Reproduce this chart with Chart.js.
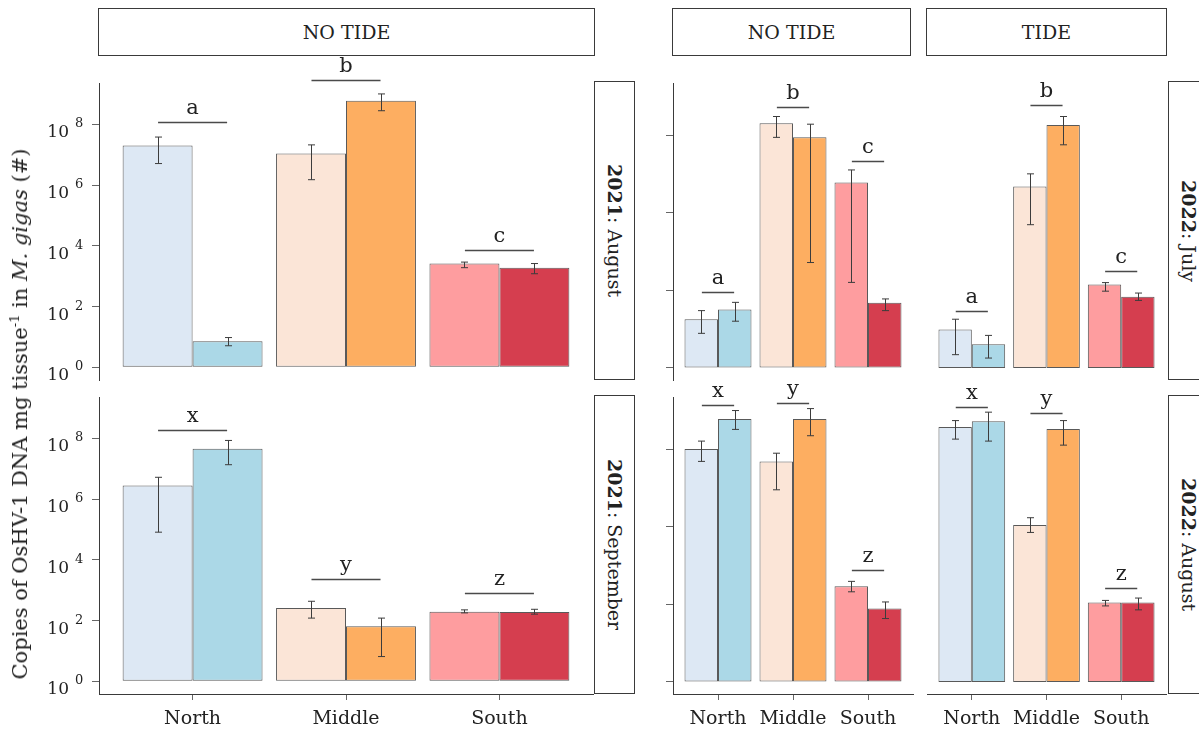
<!DOCTYPE html>
<html>
<head>
<meta charset="utf-8">
<script src="https://cdn.jsdelivr.net/npm/chart.js@4.4.1/dist/chart.umd.min.js"></script>
<style>
  body { margin: 0; width: 1199px; height: 736px; background: #fff; position: relative; overflow: hidden;
         font-family: 'DejaVu Serif', serif; color: #222; }
  canvas.panel { position: absolute; }
  .strip { position: absolute; box-sizing: border-box; border: 1.5px solid #3a3a3a; background: #fff;
           display: flex; align-items: center; justify-content: center; font-size: 19px; white-space: nowrap; }
  .strip.v { writing-mode: vertical-rl; }
  #ytitle { position: absolute; left: 20px; top: 414px; transform: translate(-50%, -50%) rotate(-90deg);
            white-space: nowrap; font-size: 21px; }
  #ytitle .sup { font-size: 13px; position: relative; top: -8px; }
</style>
</head>
<body>
<canvas class="panel" id="aug21" width="600" height="334" style="left:0;top:56px"></canvas>
<canvas class="panel" id="sep21" width="600" height="360" style="left:0;top:376px"></canvas>
<canvas class="panel" id="jul22n" width="300" height="334" style="left:620px;top:56px"></canvas>
<canvas class="panel" id="aug22n" width="300" height="360" style="left:620px;top:376px"></canvas>
<canvas class="panel" id="jul22t" width="250" height="334" style="left:920px;top:56px"></canvas>
<canvas class="panel" id="aug22t" width="250" height="360" style="left:920px;top:376px"></canvas>

<div class="strip" style="left:98px;top:8px;width:497px;height:48px">NO TIDE</div>
<div class="strip" style="left:672px;top:8px;width:239px;height:48px">NO TIDE</div>
<div class="strip" style="left:926px;top:8px;width:241px;height:48px">TIDE</div>

<div class="strip v" style="left:594px;top:81px;width:41px;height:299px"><span><b>2021</b>: August</span></div>
<div class="strip v" style="left:594px;top:395px;width:41px;height:299px"><span><b>2021</b>: September</span></div>
<div class="strip v" style="left:1168px;top:81px;width:41px;height:299px"><span><b>2022</b>: July</span></div>
<div class="strip v" style="left:1168px;top:395px;width:41px;height:299px"><span><b>2022</b>: August</span></div>

<div id="ytitle">Copies of OsHV-1 DNA mg tissue<span class="sup">-1</span> in <i>M. gigas</i> (#)</div>

<script>
// Sites along the coast
const regions = ['North', 'Middle', 'South'];
const ticks2021 = [1, 1e2, 1e4, 1e6, 1e8];
const ticks2022 = [1, 1e2, 1e4, 1e6];

// 2021 August, no tide
const aug21PaleMean = [2.0e7, 1.1e7, 2.6e3];
const aug21PaleLow  = [5.1e6, 1.5e6, 1.9e3];
const aug21PaleHigh = [3.8e7, 2.1e7, 2.9e3];
const aug21DeepMean = [7.2, 6.0e8, 1.9e3];
const aug21DeepLow  = [5.1, 2.8e8, 1.2e3];
const aug21DeepHigh = [9.5, 1.0e9, 2.6e3];
const aug21Letters  = ['a', 'b', 'c'];
const aug21LetterAt = [1.2e8, 2.9e9, 7.1e3];

// 2021 September, no tide
const sep21PaleMean = [2.8e6, 260, 195];
const sep21PaleLow  = [8.1e4, 120, 178];
const sep21PaleHigh = [5.2e6, 430, 224];
const sep21DeepMean = [4.5e7, 65, 192];
const sep21DeepLow  = [1.35e7, 6.5, 162];
const sep21DeepHigh = [8.5e7, 120, 234];
const sep21Letters  = ['x', 'y', 'z'];
const sep21LetterAt = [1.9e8, 2.3e3, 780];

// 2022 July, no tide
const jul22nPaleMean = [18, 2.0e6, 6.0e4];
const jul22nPaleLow  = [7.8, 8.7e5, 160];
const jul22nPaleHigh = [30, 3.0e6, 1.26e5];
const jul22nDeepMean = [32, 8.7e5, 48];
const jul22nDeepLow  = [16, 520, 30];
const jul22nDeepHigh = [49, 1.9e6, 60];
const jul22nLetters  = ['a', 'b', 'c'];
const jul22nLetterAt = [91, 5.4e6, 2.2e5];

// 2022 July, tide
const jul22tPaleMean = [9.8, 4.7e4, 141];
const jul22tPaleLow  = [2.2, 4.9e3, 95];
const jul22tPaleHigh = [18, 1.0e5, 158];
const jul22tDeepMean = [4.1, 1.8e6, 68];
const jul22tDeepLow  = [1.8, 5.6e5, 55];
const jul22tDeepHigh = [6.9, 3.0e6, 85];
const jul22tLetters  = ['a', 'b', 'c'];
const jul22tLetterAt = [30, 6.0e6, 316];

// 2022 August, no tide
const aug22nPaleMean = [1.0e6, 4.8e5, 290];
const aug22nPaleLow  = [4.8e5, 8.9e4, 210];
const aug22nPaleHigh = [1.6e6, 7.8e5, 390];
const aug22nDeepMean = [5.9e6, 5.9e6, 78];
const aug22nDeepLow  = [3.2e6, 2.2e6, 43];
const aug22nDeepHigh = [9.8e6, 1.1e7, 115];
const aug22nLetters  = ['x', 'y', 'z'];
const aug22nLetterAt = [1.4e7, 1.5e7, 780];

// 2022 August, tide
const aug22tPaleMean = [3.7e6, 1.1e4, 112];
const aug22tPaleLow  = [1.8e6, 7.1e3, 91];
const aug22tPaleHigh = [5.4e6, 1.7e4, 126];
const aug22tDeepMean = [5.2e6, 3.3e6, 112];
const aug22tDeepLow  = [1.6e6, 1.26e6, 72];
const aug22tDeepHigh = [8.9e6, 5.4e6, 145];
const aug22tLetters  = ['x', 'y', 'z'];
const aug22tLetterAt = [1.2e7, 8.5e6, 257];

// Pale and saturated fill per site
const paleColors = ['#dde8f4', '#fbe5d7', '#fe9d9f'];
const deepColors = ['#abd8e7', '#fdae61', '#d53e4f'];

const FONT = 'DejaVu Serif';

// Vertical error bars with caps, read from errLow / errHigh on each dataset
const errorBars = {
  id: 'errorBars',
  afterDatasetsDraw(chart) {
    const { ctx } = chart;
    const y = chart.scales.y;
    chart.data.datasets.forEach((ds, di) => {
      chart.getDatasetMeta(di).data.forEach((bar, i) => {
        const lo = y.getPixelForValue(ds.errLow[i]);
        const hi = y.getPixelForValue(ds.errHigh[i]);
        const cx = Math.round(bar.x) + 0.5;
        ctx.save();
        ctx.strokeStyle = '#3c3c3c';
        ctx.lineWidth = 1;
        ctx.beginPath();
        ctx.moveTo(cx, lo); ctx.lineTo(cx, hi);
        ctx.moveTo(cx - 3.5, lo); ctx.lineTo(cx + 3.5, lo);
        ctx.moveTo(cx - 3.5, hi); ctx.lineTo(cx + 3.5, hi);
        ctx.stroke();
        ctx.restore();
      });
    });
  }
};

// Significance letters over each site pair
const groupLetters = {
  id: 'groupLetters',
  afterDatasetsDraw(chart, args, opts) {
    const { ctx } = chart;
    const { x, y } = chart.scales;
    opts.letters.forEach((txt, i) => {
      const py = Math.round(y.getPixelForValue(opts.levels[i])) + 0.5;
      const x0 = x.getPixelForValue(i - opts.halfWidth);
      const x1 = x.getPixelForValue(i + opts.halfWidth);
      ctx.save();
      ctx.strokeStyle = '#4a4a4a';
      ctx.lineWidth = 1.6;
      ctx.beginPath(); ctx.moveTo(x0, py); ctx.lineTo(x1, py); ctx.stroke();
      ctx.fillStyle = '#222';
      ctx.font = '21px "' + FONT + '"';
      ctx.textAlign = 'center';
      ctx.textBaseline = 'alphabetic';
      ctx.fillText(txt, (x0 + x1) / 2, py - 9);
      ctx.restore();
    });
  }
};

// Power-of-ten tick labels: "10" with a raised exponent beside each y tick
const powerTicks = {
  id: 'powerTicks',
  afterDraw(chart, args, opts) {
    if (!opts.show) return;
    const { ctx } = chart;
    const y = chart.scales.y;
    y.ticks.forEach(t => {
      const py = y.getPixelForValue(t.value);
      const exp = Math.round(Math.log10(t.value));
      ctx.save();
      ctx.fillStyle = '#222';
      ctx.textBaseline = 'alphabetic';
      ctx.font = '17px "' + FONT + '"';
      ctx.textAlign = 'right';
      ctx.fillText('10', opts.right, py + 13);
      ctx.font = '13px "' + FONT + '"';
      ctx.textAlign = 'left';
      ctx.fillText(String(exp), opts.right + 6, py + 3);
      ctx.restore();
    });
  }
};

function drawPanel(id, d, g) {
  const mk = (mean, low, high, colors) => ({
    data: regions.map((r, i) => ({ x: i, y: mean[i] })),
    errLow: low, errHigh: high,
    backgroundColor: colors,
    borderColor: '#595959',
    borderWidth: 1,
    borderSkipped: false
  });
  new Chart(document.getElementById(id), {
    type: 'bar',
    data: { datasets: [
      mk(d.paleMean, d.paleLow, d.paleHigh, paleColors),
      mk(d.deepMean, d.deepLow, d.deepHigh, deepColors)
    ] },
    plugins: [errorBars, groupLetters, powerTicks],
    options: {
      responsive: false,
      animation: false,
      events: [],
      layout: { padding: g.pad },
      datasets: { bar: { base: 1, categoryPercentage: g.cat, barPercentage: 1 } },
      plugins: {
        legend: { display: false },
        tooltip: { enabled: false },
        groupLetters: { letters: d.letters, levels: d.letterAt, halfWidth: g.half },
        powerTicks: { show: g.yLabels, right: 69 }
      },
      scales: {
        x: {
          type: 'linear', min: g.xMin, max: g.xMax, offset: false,
          display: g.showX,
          grid: { offset: false, drawOnChartArea: false, drawTicks: true, tickLength: 6, color: '#666' },
          border: { display: true, color: '#3a3a3a', width: 1 },
          ticks: { autoSkip: false, maxRotation: 0, padding: 8, color: '#222',
                   font: { family: FONT, size: 19 }, callback: v => regions[v] },
          afterBuildTicks: s => { s.ticks = regions.map((r, i) => ({ value: i })); },
          afterFit: s => { if (s.options.display) s.height = 36; }
        },
        y: {
          type: 'logarithmic', min: g.yMin, max: g.yMax, bounds: 'data',
          display: g.showY,
          grid: { drawOnChartArea: false, drawTicks: true, tickLength: 7, color: '#666' },
          border: { display: true, color: '#3a3a3a', width: 1 },
          ticks: { display: false },
          afterBuildTicks: s => { s.ticks = g.yTicks.map(v => ({ value: v })); },
          afterFit: s => { if (s.options.display) s.width = g.yWidth; }
        }
      }
    }
  });
}

const pack = (pm, pl, ph, dm, dl, dh, letters, letterAt) =>
  ({ paleMean: pm, paleLow: pl, paleHigh: ph, deepMean: dm, deepLow: dl, deepHigh: dh, letters, letterAt });

// Axis geometry per column and row
const left2021 = { xMin: -0.61, xMax: 2.61, cat: 0.912, half: 0.225, yTicks: ticks2021,
                   yMin: Math.pow(10, -0.42), yMax: Math.pow(10, 9.36), showY: true, yLabels: true, yWidth: 99 };
const mid2022  = { xMin: -0.6, xMax: 2.6, cat: 0.893, half: 0.215, yTicks: ticks2022,
                   yMin: Math.pow(10, -0.31), yMax: Math.pow(10, 7.34), showY: true, yLabels: false, yWidth: 53 };
const right2022 = Object.assign({}, mid2022, { showY: false });
const topRow = { showX: false };
const botRow = { showX: true };

drawPanel('aug21', pack(aug21PaleMean, aug21PaleLow, aug21PaleHigh, aug21DeepMean, aug21DeepLow, aug21DeepHigh, aug21Letters, aug21LetterAt),
  Object.assign({}, left2021, topRow, { pad: { left: 0, right: 7, top: 27, bottom: 10 } }));
drawPanel('sep21', pack(sep21PaleMean, sep21PaleLow, sep21PaleHigh, sep21DeepMean, sep21DeepLow, sep21DeepHigh, sep21Letters, sep21LetterAt),
  Object.assign({}, left2021, botRow, { pad: { left: 0, right: 7, top: 21, bottom: 6 } }));
drawPanel('jul22n', pack(jul22nPaleMean, jul22nPaleLow, jul22nPaleHigh, jul22nDeepMean, jul22nDeepLow, jul22nDeepHigh, jul22nLetters, jul22nLetterAt),
  Object.assign({}, mid2022, topRow, { pad: { left: 0, right: 7, top: 27, bottom: 10 } }));
drawPanel('aug22n', pack(aug22nPaleMean, aug22nPaleLow, aug22nPaleHigh, aug22nDeepMean, aug22nDeepLow, aug22nDeepHigh, aug22nLetters, aug22nLetterAt),
  Object.assign({}, mid2022, botRow, { pad: { left: 0, right: 7, top: 21, bottom: 6 } }));
drawPanel('jul22t', pack(jul22tPaleMean, jul22tPaleLow, jul22tPaleHigh, jul22tDeepMean, jul22tDeepLow, jul22tDeepHigh, jul22tLetters, jul22tLetterAt),
  Object.assign({}, right2022, topRow, { pad: { left: 7, right: 4, top: 27, bottom: 10 } }));
drawPanel('aug22t', pack(aug22tPaleMean, aug22tPaleLow, aug22tPaleHigh, aug22tDeepMean, aug22tDeepLow, aug22tDeepHigh, aug22tLetters, aug22tLetterAt),
  Object.assign({}, right2022, botRow, { pad: { left: 7, right: 4, top: 21, bottom: 6 } }));
</script>
</body>
</html>
